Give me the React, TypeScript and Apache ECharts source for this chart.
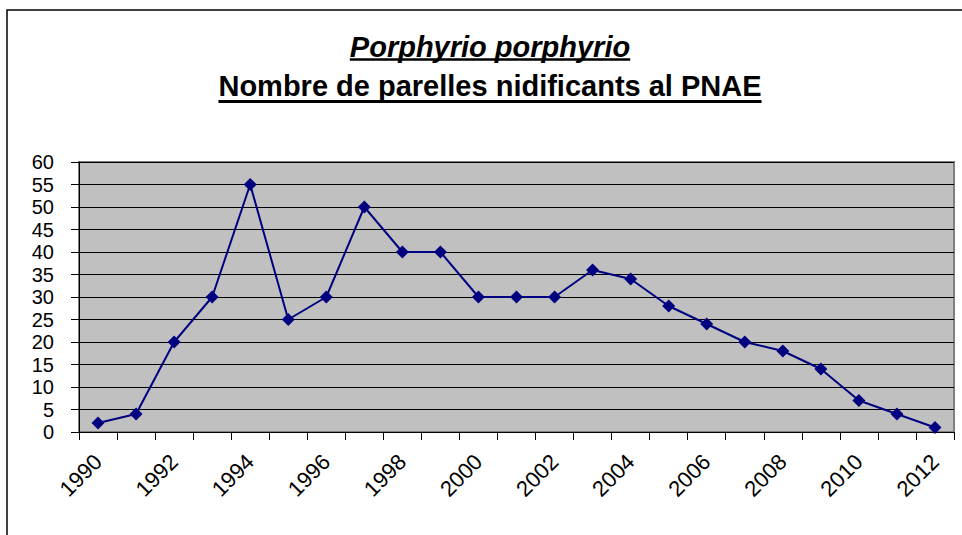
import React, { useEffect, useRef } from "react";
import * as echarts from "echarts";

const years = [
  "1990", "1991", "1992", "1993", "1994", "1995", "1996", "1997", "1998", "1999",
  "2000", "2001", "2002", "2003", "2004", "2005", "2006", "2007", "2008", "2009",
  "2010", "2011", "2012",
];
const pairs = [2, 4, 20, 30, 55, 25, 30, 50, 40, 40, 30, 30, 30, 36, 34, 28, 24, 20, 18, 14, 7, 4, 1];
const titleLine1 = "Porphyrio porphyrio";
const titleLine2 = "Nombre de parelles nidificants al PNAE";

const FONT = '"Liberation Sans", Arial, sans-serif';

function measure(text: string, font: string): number {
  const c = document.createElement("canvas");
  const ctx = c.getContext("2d");
  if (!ctx) return text.length * 15;
  ctx.font = font;
  return ctx.measureText(text).width;
}

export default function App() {
  const ref = useRef<HTMLDivElement>(null);
  useEffect(() => {
    if (!ref.current) return;
    const chart = echarts.init(ref.current, undefined, { renderer: "svg" });
    const cx = 490;
    const t1Size = 29;
    const t2Size = 29;
    const w1 = measure(titleLine1, `italic bold ${t1Size}px ${FONT}`);
    const w2 = measure(titleLine2, `bold ${t2Size}px ${FONT}`);
    chart.setOption({
      animation: false,
      backgroundColor: "#ffffff",
      graphic: [
        {
          type: "rect",
          shape: { x: 7, y: 10, width: 1000, height: 600 },
          style: { fill: "none", stroke: "#000", lineWidth: 1.5 },
          z: 0,
        },
        {
          type: "text",
          x: cx,
          y: 47,
          style: {
            text: titleLine1,
            font: `italic bold ${t1Size}px ${FONT}`,
            fill: "#000",
            textAlign: "center",
            textVerticalAlign: "middle",
          },
        },
        {
          type: "line",
          shape: { x1: cx - w1 / 2, y1: 59.5, x2: cx + w1 / 2, y2: 59.5 },
          style: { stroke: "#000", lineWidth: 2.5 },
        },
        {
          type: "text",
          x: cx,
          y: 86,
          style: {
            text: titleLine2,
            font: `bold ${t2Size}px ${FONT}`,
            fill: "#000",
            textAlign: "center",
            textVerticalAlign: "middle",
          },
        },
        {
          type: "line",
          shape: { x1: cx - w2 / 2, y1: 101.5, x2: cx + w2 / 2, y2: 101.5 },
          style: { stroke: "#000", lineWidth: 3 },
        },
      ],
      grid: {
        left: 79,
        right: 8,
        top: 162,
        bottom: 103,
        show: true,
        backgroundColor: "#C0C0C0",
        borderColor: "#808080",
        borderWidth: 2,
      },
      xAxis: {
        type: "category",
        data: years,
        boundaryGap: true,
        axisLine: { show: true, lineStyle: { color: "#000", width: 1 } },
        axisTick: { show: true, interval: 0, length: 8, lineStyle: { color: "#000" } },
        axisLabel: {
          interval: 1,
          rotate: 45,
          fontSize: 22,
          fontFamily: FONT,
          color: "#000",
          margin: 26,
        },
      },
      yAxis: {
        type: "value",
        min: 0,
        max: 60,
        interval: 5,
        axisLine: { show: true, lineStyle: { color: "#000", width: 1 } },
        axisTick: { show: true, length: 8, lineStyle: { color: "#000" } },
        axisLabel: {
          fontSize: 20,
          fontFamily: FONT,
          color: "#000",
          margin: 25,
        },
        splitLine: { show: true, lineStyle: { color: "#000", width: 1 } },
      },
      series: [
        {
          type: "line",
          data: pairs,
          symbol: "diamond",
          symbolSize: 13,
          itemStyle: { color: "#000080" },
          lineStyle: { color: "#000080", width: 2 },
        },
      ],
    });
    return () => chart.dispose();
  }, []);
  return (
    <div
      ref={ref}
      style={{ position: "absolute", left: 0, top: 0, width: 962, height: 535 }}
    />
  );
}
